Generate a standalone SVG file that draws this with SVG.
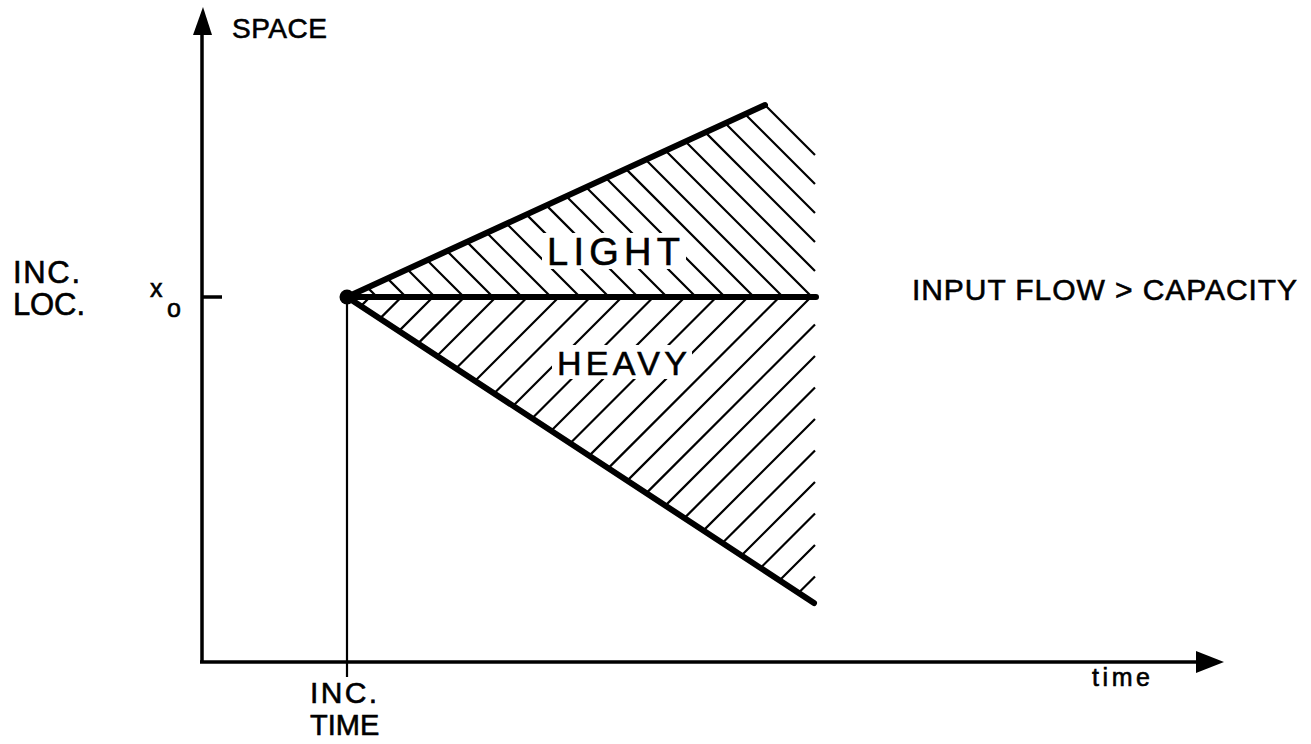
<svg xmlns="http://www.w3.org/2000/svg" width="1311" height="744" viewBox="0 0 1311 744">
<style>
.lbl{font-family:"Liberation Sans",Arial,sans-serif;fill:#000;stroke:#000;stroke-width:0.6}
.axis{stroke:#000;stroke-width:3.5;fill:none}
.thick{stroke:#000;stroke-width:6;stroke-linecap:round;fill:none}
.hatch{stroke:#000;stroke-width:2.2;fill:none}
</style>
<rect width="1311" height="744" fill="#fff"/>
<g id="hatch-light" class="hatch">
<path d="M765,105 L815,155 M745.2,114.2 L815,184 M725.3,123.3 L815,213 M705.4,132.4 L815,242 M685.5,141.5 L815,271 M665.7,150.7 L812,297 M645.8,159.8 L783,297 M625.9,168.9 L754,297 M606,178 L725,297 M586.2,187.2 L696,297 M566.3,196.3 L667,297 M546.4,205.4 L638,297 M526.6,214.6 L609,297 M506.7,223.7 L580,297 M486.8,232.8 L551,297 M466.9,241.9 L522,297 M447.1,251.1 L493,297 M427.2,260.2 L464,297 M407.3,269.3 L435,297 M387.4,278.4 L406,297 M367.6,287.6 L377,297"/>
</g>
<g id="hatch-heavy" class="hatch">
<path d="M798.2,593.3 L815,576.5 M779.2,580.8 L815,545 M760.2,568.3 L815,513.5 M741.2,555.8 L815,482 M722.2,543.3 L815,450.5 M703.1,530.9 L815,419 M684.1,518.4 L815,387.5 M665.1,505.9 L815,356 M646.1,493.4 L815,324.5 M627.1,480.9 L811,297 M608.1,468.4 L779.5,297 M589.1,455.9 L748,297 M570,443.5 L716.5,297 M551,431 L685,297 M532,418.5 L653.5,297 M513,406 L622,297 M494,393.5 L590.5,297 M475,381 L559,297 M456,368.5 L527.5,297 M437,356 L496,297 M417.9,343.6 L464.5,297 M398.9,331.1 L433,297 M379.9,318.6 L401.5,297 M360.9,306.1 L370,297"/>
</g>
<g id="connectors">
<line class="axis" x1="202" y1="662" x2="202" y2="30"/>
<polygon points="193,35 203,7 212,35" fill="#000"/>
<line class="axis" x1="200" y1="662" x2="1200" y2="662"/>
<polygon points="1196,651 1224,662 1196,673" fill="#000"/>
<line class="axis" x1="202" y1="297" x2="222" y2="297" stroke-width="3"/>
<line x1="347" y1="297" x2="347" y2="677" stroke="#000" stroke-width="2.2"/>
<line class="thick" x1="347" y1="297" x2="765" y2="105"/>
<line class="thick" x1="347" y1="297" x2="816" y2="297"/>
<line class="thick" x1="347" y1="297" x2="814" y2="603"/>
</g>
<g id="node-origin">
<circle cx="347" cy="297" r="7.5" fill="#000"/>
</g>
<g id="node-light">
<rect x="542" y="233" width="144" height="36" fill="#fff"/>
<text class="lbl" x="547" y="265" font-size="38" textLength="133" lengthAdjust="spacing">LIGHT</text>
</g>
<g id="node-heavy">
<rect x="552" y="345" width="140" height="34" fill="#fff"/>
<text class="lbl" x="557" y="375" font-size="34" textLength="130" lengthAdjust="spacing">HEAVY</text>
</g>
<g id="node-space">
<text class="lbl" x="232" y="38" font-size="28" textLength="95" lengthAdjust="spacing">SPACE</text>
</g>
<g id="node-incloc">
<text class="lbl" x="13" y="283" font-size="31" textLength="67" lengthAdjust="spacing">INC.</text>
<text class="lbl" x="13" y="315" font-size="31" textLength="72" lengthAdjust="spacing">LOC.</text>
</g>
<g id="node-x0">
<text class="lbl" x="150" y="297" font-size="25">x</text>
<text class="lbl" x="167" y="317" font-size="25">o</text>
</g>
<g id="node-condition">
<text class="lbl" x="912" y="300" font-size="30" textLength="385" lengthAdjust="spacing">INPUT FLOW &gt; CAPACITY</text>
</g>
<g id="node-inctime">
<text class="lbl" x="310" y="703" font-size="30" textLength="67" lengthAdjust="spacing">INC.</text>
<text class="lbl" x="310" y="735" font-size="29">TIME</text>
</g>
<g id="node-time">
<text class="lbl" x="1092" y="686" font-size="25" textLength="58" lengthAdjust="spacing">time</text>
</g>
</svg>
